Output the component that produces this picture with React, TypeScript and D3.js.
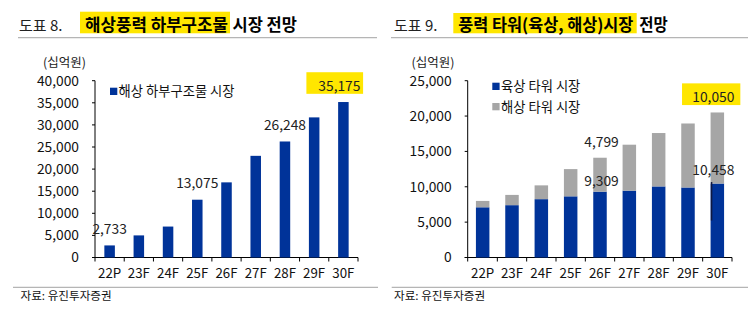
import React from "react";
import * as d3 from "d3";

// ---------- data ----------
const categories = ["22P", "23F", "24F", "25F", "26F", "27F", "28F", "29F", "30F"];

// Chart 8: offshore substructure market (십억원)
const substructure = [2733, 5000, 7000, 13075, 17000, 23000, 26248, 31700, 35175];
const substructureLabels = ["22P", "25F", "28F", "30F"];

// Chart 9: wind tower market (onshore / offshore)
const onshoreTower = [7100, 7400, 8250, 8650, 9309, 9450, 10050, 9900, 10458];
const offshoreTower = [900, 1450, 1950, 3850, 4799, 6500, 7550, 9050, 10050];

const leftTicks = [0, 5000, 10000, 15000, 20000, 25000, 30000, 35000, 40000];
const rightTicks = [0, 5000, 10000, 15000, 20000, 25000];

const titles = [
  { prefix: "도표 8.", highlight: "해상풍력 하부구조물", rest: "시장 전망" },
  { prefix: "도표 9.", highlight: "풍력 타워(육상, 해상)시장", rest: "전망" },
];
const unitLabel = "(십억원)";
const sourceLabel = "자료: 유진투자증권";
const legendLeft = ["해상 하부구조물 시장"];
const legendRight = ["육상 타워 시장", "해상 타워 시장"];

// ---------- style ----------
const BLUE = "#003399";
const GRAY = "#a6a6a6";
const YELLOW = "#ffe600";
const FONT = "'Noto Sans CJK KR', 'Noto Sans', sans-serif";
const fmt = d3.format(",");

const PLOT_TOP = 80.7;
const PLOT_BOTTOM = 257.5;

function Axes({ x, y, ticks, axisX }: any) {
  const [r0, r1] = x.range();
  return (
    <g>
      <line x1={axisX} x2={axisX} y1={y.range()[1]} y2={y.range()[0]} stroke="#000" strokeWidth={1} />
      {ticks.map((t: number) => (
        <g key={t}>
          <line x1={axisX - 3} x2={axisX} y1={y(t)} y2={y(t)} stroke="#000" />
          <text x={axisX - 16} y={y(t)} dy="0.36em" textAnchor="end" fontSize={13.8} fill="#111">
            {fmt(t)}
          </text>
        </g>
      ))}
      <line x1={axisX - 3} x2={r1} y1={y(0)} y2={y(0)} stroke="#000" />
      {categories.map((c, i) => (
        <line key={"t" + c} x1={r0 + x.step() * (i + 1)} x2={r0 + x.step() * (i + 1)} y1={y(0)} y2={y(0) + 4} stroke="#000" />
      ))}
      <line x1={axisX} x2={axisX} y1={y(0)} y2={y(0) + 4} stroke="#000" />
      {categories.map((c) => (
        <text key={"l" + c} x={x(c)! + x.bandwidth() / 2} y={278} textAnchor="middle" fontSize={13.3} fill="#111">
          {c}
        </text>
      ))}
    </g>
  );
}

function Title({ t, x0, hlX, hlW, hlY, hlH, textW, restW, lineX0, lineX1 }: any) {
  return (
    <g>
      <rect x={hlX} y={hlY} width={hlW} height={hlH} fill={YELLOW} />
      <text x={x0} y={31} fontSize={15} fill="#222">{t.prefix}</text>
      <text x={hlX + 5} y={31} fontSize={17} fontWeight="bold" fill="#000" textLength={textW} lengthAdjust="spacingAndGlyphs">
        {t.highlight}
      </text>
      <text x={hlX + hlW + 2.5} y={31} fontSize={17} fontWeight="bold" fill="#000" textLength={restW} lengthAdjust="spacingAndGlyphs">
        {t.rest}
      </text>
      <line x1={lineX0} x2={lineX1} y1={37.7} y2={37.7} stroke="#b5b5b5" strokeWidth={1.3} />
    </g>
  );
}

export default function App() {
  // ----- left chart -----
  const xL = d3.scaleBand<string>().domain(categories).range([95, 358]).paddingInner(0.64).paddingOuter(0.32);
  const yL = d3.scaleLinear().domain([0, 40000]).range([PLOT_BOTTOM, PLOT_TOP]);
  // ----- right chart -----
  const xR = d3.scaleBand<string>().domain(categories).range([468, 732]).paddingInner(0.54).paddingOuter(0.27);
  const yR = d3.scaleLinear().domain([0, 25000]).range([PLOT_BOTTOM, PLOT_TOP]);

  const stacked = d3.stack<any>().keys(["on", "off"])(
    categories.map((c, i) => ({ cat: c, on: onshoreTower[i], off: offshoreTower[i] }))
  );

  const cxL = (c: string) => xL(c)! + xL.bandwidth() / 2;
  const cxR = (c: string) => xR(c)! + xR.bandwidth() / 2;
  const last = categories.length - 1;
  const lastCat = categories[last];

  return (
    <svg
      width={755}
      height={322}
      style={{ position: "absolute", left: 0, top: 0, background: "#fff" }}
      fontFamily={FONT}
    >
      {/* Titles */}
      <Title t={titles[0]} x0={19} hlX={80} hlW={150} hlY={11.7} hlH={21.6} textW={143} restW={64.5} lineX0={18} lineX1={377} />
      <Title t={titles[1]} x0={394} hlX={453.3} hlW={183.4} hlY={13} hlH={20.3} textW={175} restW={28.5} lineX0={391} lineX1={748} />

      {/* Unit labels */}
      <text x={64.5} y={66.5} textAnchor="middle" fontSize={12.5} fill="#222">{unitLabel}</text>
      <text x={433} y={66.5} textAnchor="middle" fontSize={12.5} fill="#222">{unitLabel}</text>

      {/* ---------- Left chart ---------- */}
      <Axes x={xL} y={yL} ticks={leftTicks} axisX={95} />
      {categories.map((c, i) => (
        <rect key={c} x={xL(c)} y={yL(substructure[i])} width={xL.bandwidth()} height={yL(0) - yL(substructure[i])} fill={BLUE} />
      ))}
      {/* legend */}
      <rect x={110} y={87.7} width={7.3} height={7.3} fill={BLUE} />
      <text x={118.5} y={91.3} dy="0.36em" fontSize={13.3} fill="#111">{legendLeft[0]}</text>
      {/* data labels */}
      {categories.map((c, i) => {
        if (!substructureLabels.includes(c)) return null;
        const isLast = i === last;
        const cx = cxL(c) + (isLast ? -4 : 0);
        const by = yL(substructure[i]) - 11.5;
        return (
          <g key={"lab" + c}>
            {isLast && <rect x={cx - 33} y={by - 18.3} width={56.7} height={21.6} fill={YELLOW} />}
            <text x={cx} y={by} textAnchor="middle" fontSize={13.8} fill="#222">{fmt(substructure[i])}</text>
          </g>
        );
      })}

      {/* ---------- Right chart ---------- */}
      <Axes x={xR} y={yR} ticks={rightTicks} axisX={467.7} />
      {stacked.map((s, si) => (
        <g key={s.key} fill={si === 0 ? BLUE : GRAY}>
          {s.map((d, i) => (
            <rect key={i} x={xR(categories[i])} y={yR(d[1])} width={xR.bandwidth()} height={yR(d[0]) - yR(d[1])} />
          ))}
        </g>
      ))}
      {/* leader line on last bar */}
      <line
        x1={xR(lastCat)! + 1}
        x2={xR(lastCat)! + 1}
        y1={yR(onshoreTower[last]) - 1.5}
        y2={yR(onshoreTower[last] / 2)}
        stroke="#101840"
        strokeWidth={1.5}
      />
      {/* legend */}
      <rect x={492.3} y={82.7} width={7.3} height={7.3} fill={BLUE} />
      <text x={501} y={86.5} dy="0.36em" fontSize={13.3} fill="#111">{legendRight[0]}</text>
      <rect x={492.3} y={103} width={7.3} height={7.3} fill={GRAY} />
      <text x={501} y={106.8} dy="0.36em" fontSize={13.3} fill="#111">{legendRight[1]}</text>
      {/* data labels */}
      {(() => {
        const i26 = categories.indexOf("26F");
        const c26 = "26F";
        const tot26 = onshoreTower[i26] + offshoreTower[i26];
        const tot30 = onshoreTower[last] + offshoreTower[last];
        const cx30 = cxR(lastCat) - 4;
        const by30 = yR(tot30) - 10.7;
        return (
          <g fontSize={13.8} fill="#222" textAnchor="middle">
            <text x={cxR(c26) + 1.5} y={yR(tot26) - 10.3}>{fmt(offshoreTower[i26])}</text>
            <text x={cxR(c26) + 1.5} y={yR(onshoreTower[i26]) - 5.5}>{fmt(onshoreTower[i26])}</text>
            <text x={cx30} y={yR(onshoreTower[last]) - 8.4}>{fmt(onshoreTower[last])}</text>
            <rect x={cx30 - 31.3} y={by30 - 18.4} width={58.3} height={21.7} fill={YELLOW} />
            <text x={cx30} y={by30}>{fmt(offshoreTower[last])}</text>
          </g>
        );
      })()}

      {/* Footer */}
      <line x1={13} x2={378} y1={287.3} y2={287.3} stroke="#b5b5b5" strokeWidth={1.3} />
      <line x1={391.7} x2={748} y1={287.3} y2={287.3} stroke="#b5b5b5" strokeWidth={1.3} />
      <text x={20.5} y={299.5} fontSize={11.6} fill="#111">{sourceLabel}</text>
      <text x={394} y={299.5} fontSize={11.6} fill="#111">{sourceLabel}</text>
    </svg>
  );
}
